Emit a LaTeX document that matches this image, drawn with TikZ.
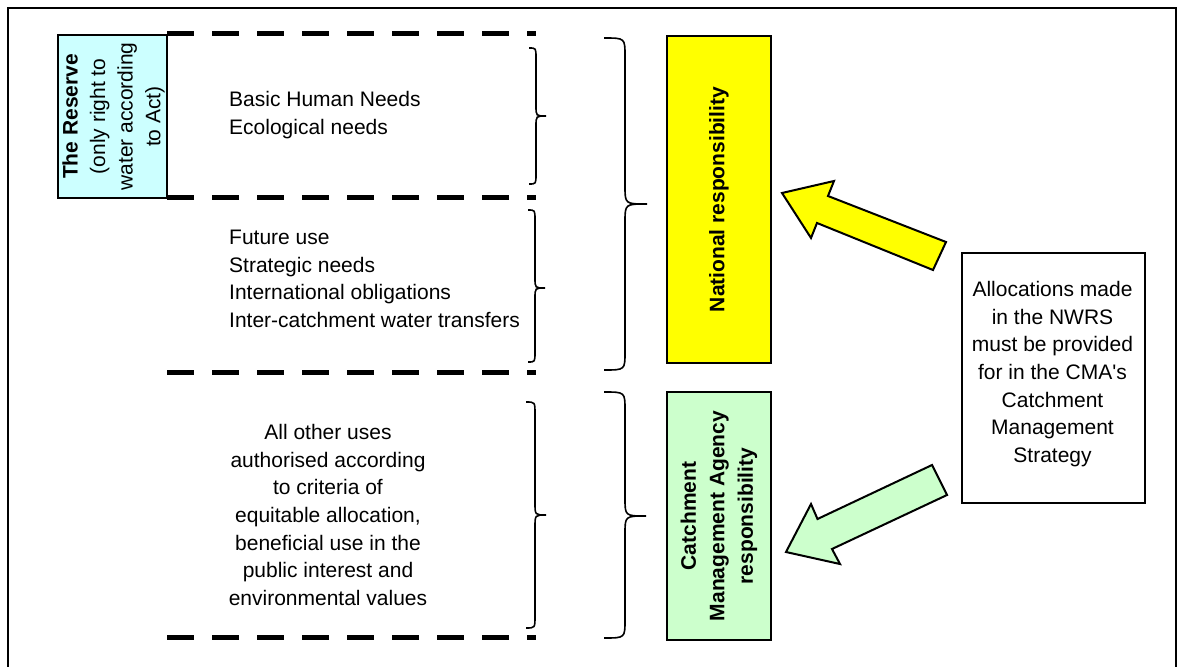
\documentclass[tikz,border=0pt]{standalone}
\usepackage{fontspec}
\setmainfont{Liberation Sans}
% same face without the TeX quote mapping, for a straight apostrophe
\newfontfamily\straightquote{Liberation Sans}
\definecolor{reservecyan}{HTML}{CCFFFF}
\definecolor{natyellow}{HTML}{FFFF00}
\definecolor{cmagreen}{HTML}{CCFFCC}
% right-pointing curly brace: end x, back x, tip x, top y, mid y, bottom y, corner radius
\newcommand{\bracedraw}[7]{%
  \draw[bracestroke] (#1,#4) .. controls (#2,#4) and (#2,#4) .. (#2,#4+#7)
    -- (#2,#5-#7) .. controls (#2,#5) and (#2,#5) .. (#3,#5)
    .. controls (#2,#5) and (#2,#5) .. (#2,#5+#7)
    -- (#2,#6-#7) .. controls (#2,#6) and (#2,#6) .. (#1,#6);}
\begin{document}
\begin{tikzpicture}[x=1pt,y=-1pt,line join=miter]
\tikzset{
  txt/.style={font=\fontsize{21}{27.6}\selectfont, inner sep=0pt},
  boldtxt/.style={font=\fontsize{21}{28.5}\selectfont\bfseries, inner sep=0pt},
  boxline/.style={draw=black, line width=2pt, inner sep=0pt},
  sepline/.style={line width=5pt, dash pattern=on 27pt off 18pt},
  bracestroke/.style={draw=black, line width=1.6pt},
  blockarrow/.style={draw=black, line width=2pt},
}
\useasboundingbox (0,0) rectangle (1182,666);

% outer frame (open at the bottom edge)
\draw[line width=2pt] (8,680) -- (8,8) -- (1176,8) -- (1176,680);

% the Reserve
\node[boxline, fill=reservecyan, minimum width=109pt, minimum height=163pt, anchor=north west] (reserve) at (57,34) {};
\node[txt, rotate=90, align=center] (reservetxt) at ([xshift=1pt]reserve.center)
  {\textbf{The Reserve}\\(only right to\\water according\\to Act)};

% dashed separators
\draw[sepline] (167,34) -- (536,34);
\draw[sepline] (167,197) -- (536,197);
\draw[sepline] (167,372) -- (536,372);
\draw[sepline] (167,637) -- (536,637);

% use categories
\node[txt, anchor=west, align=left] (basic) at (229,115) {Basic Human Needs\\Ecological needs};
\node[txt, anchor=west, align=left] (future) at (229,279) {Future use\\Strategic needs\\International obligations\\Inter-catchment water transfers};
\node[txt, align=center] (other) at (328,515) {All other uses\\authorised according\\to criteria of\\equitable allocation,\\beneficial use in the\\public interest and\\environmental values};

% small braces
\bracedraw{529}{536}{546}{48}{116}{184}{10}
\bracedraw{528}{535}{545}{210}{288}{362}{10}
\bracedraw{526}{535}{546}{402}{515}{628}{12}

% large braces
\bracedraw{604}{625}{647}{38}{204}{370}{18}
\bracedraw{604}{625}{646}{392}{516}{638}{18}

% responsibility boxes
\node[boxline, fill=natyellow, minimum width=104pt, minimum height=327pt, anchor=north west] (natl) at (666,35) {};
\node[boldtxt, rotate=90] (natltxt) at (natl.center) {National responsibility};
\node[boxline, fill=cmagreen, minimum width=104pt, minimum height=248pt, anchor=north west] (cma) at (666,391) {};
\node[boldtxt, rotate=90, align=center] (cmatxt) at (cma.center) {Catchment\\Management Agency\\responsibility};

% NWRS note
\node[boxline, fill=white, minimum width=183pt, minimum height=250pt, anchor=north west] (note) at (961,252) {};
\node[txt, align=center] (notetxt) at (1052.5,374) {Allocations made\\in the NWRS\\must be provided\\for in the CMA{\straightquote'}s\\Catchment\\Management\\Strategy};

% block arrows
\draw[blockarrow, fill=natyellow] (782,193) -- (834,181) -- (828,196) -- (946,242) -- (933,270) -- (817,223) -- (811,238) -- cycle;
\draw[blockarrow, fill=cmagreen] (786,552) -- (811,504) -- (817.5,519) -- (932,465) -- (947,495) -- (832,549) -- (840,564) -- cycle;
\end{tikzpicture}
\end{document}
